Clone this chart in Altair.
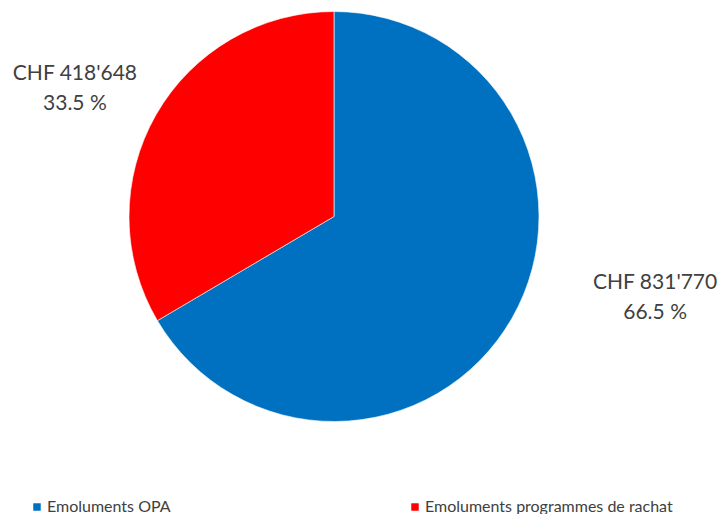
import altair as alt
import pandas as pd

categories = ["Emoluments OPA", "Emoluments programmes de rachat"]
values = [831770, 418648]
order = [0, 1]
colors = ["#0070C0", "#FF0000"]

df = pd.DataFrame({"name": categories, "value": values, "idx": order})

FONT = "Lato"
TXT = "#404040"

base = alt.Chart(df).transform_joinaggregate(
    total="sum(value)"
).transform_window(
    cum="sum(value)", sort=[alt.SortField("idx")], frame=[None, 0]
).transform_calculate(
    f_end="datum.cum / datum.total",
    f_start="(datum.cum - datum.value) / datum.total",
    f_mid="(datum.cum - datum.value / 2) / datum.total",
    label="'CHF ' + replace(format(datum.value, ','), regexp(',', 'g'), \"'\") + '\\n' + format(datum.value / datum.total * 100, '.1f') + ' %'",
)

tscale = alt.Scale(domain=[0, 1], range=[0, 6.283185307179586])

arcs = base.mark_arc(radius=205, stroke="white", strokeWidth=0.6).encode(
    theta=alt.Theta("f_start:Q", scale=tscale),
    theta2="f_end:Q",
    color=alt.Color(
        "name:N",
        scale=alt.Scale(domain=categories, range=colors),
        legend=alt.Legend(
            title=None,
            orient="none",
            legendX=21,
            legendY=491,
            direction="horizontal",
            columns=2,
            columnPadding=236,
            symbolType="square",
            symbolSize=56,
            symbolStrokeWidth=0,
            labelFont=FONT,
            labelFontSize=16,
            labelColor=TXT,
            labelOffset=2,
            labelLimit=400,
            padding=0,
        ),
    ),
)

def label_layer(name, radius, offset):
    return base.transform_filter(alt.datum.name == name).mark_text(
        radius=radius,
        thetaOffset=offset,
        font=FONT,
        fontSize=21,
        color=TXT,
        lineBreak="\n",
        lineHeight=30,
        align="center",
        baseline="middle",
        dy=-14,
    ).encode(
        theta=alt.Theta("f_mid:Q", scale=tscale),
        text="label:N",
    )

lab_blue = label_layer(categories[0], 331, -0.274)
lab_red = label_layer(categories[1], 289, -0.060)

chart = alt.layer(arcs, lab_blue, lab_red).properties(
    width=652,
    height=417,
    autosize=alt.AutoSizeParams(type="none"),
    padding={"left": 0, "top": 0, "right": 57, "bottom": 89},
).configure_view(stroke=None)

chart.save("out.html", embed_options={"renderer": "svg", "actions": False})
